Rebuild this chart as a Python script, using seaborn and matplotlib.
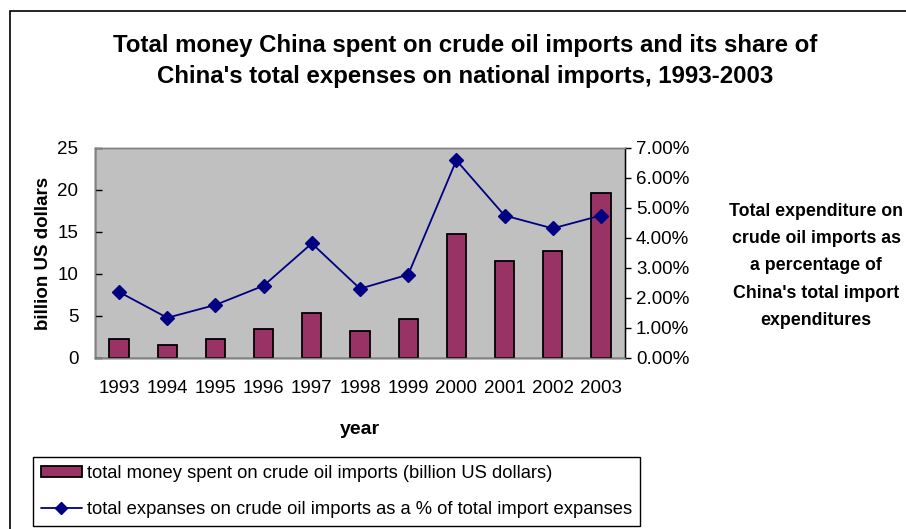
import matplotlib
matplotlib.use("Agg")
import matplotlib.pyplot as plt
import seaborn as sns
import pandas as pd
from matplotlib.patches import Patch, Rectangle
from matplotlib.lines import Line2D
from matplotlib.ticker import PercentFormatter, MultipleLocator

# Data: China's crude oil import bill and its share of total imports
years = ["1993", "1994", "1995", "1996", "1997", "1998", "1999", "2000", "2001", "2002", "2003"]
spending_bn_usd = [2.3, 1.5, 2.3, 3.4, 5.4, 3.2, 4.6, 14.8, 11.5, 12.7, 19.7]
share_pct = [2.20, 1.34, 1.77, 2.41, 3.82, 2.31, 2.78, 6.59, 4.75, 4.32, 4.75]

title = ("Total money China spent on crude oil imports and its share of\n"
         "China's total expenses on national imports, 1993-2003")
bar_label = "total money spent on crude oil imports (billion US dollars)"
line_label = "total expanses on crude oil imports as a % of total import expanses"
side_note = ("Total expenditure on\ncrude oil imports as\na percentage of\n"
             "China's total import\nexpenditures")

df = pd.DataFrame({"year": years, "spending": spending_bn_usd, "share": share_pct})

sns.set_theme(style="white")
plt.rcParams["font.family"] = ["Liberation Sans", "DejaVu Sans"]
plt.rcParams.update({"text.color": "black", "axes.labelcolor": "black",
                     "xtick.color": "black", "ytick.color": "black"})

BAR_COLOR = "#993366"
LINE_COLOR = "#000080"
W, H = 906, 529

fig = plt.figure(figsize=(W / 100, H / 100), dpi=100)
ax = fig.add_axes([95 / W, 1 - 358 / H, (625 - 95) / W, (358 - 148) / H])
ax.set_facecolor("#C0C0C0")

sns.barplot(data=df, x="year", y="spending", color=BAR_COLOR, width=0.4,
            edgecolor="black", linewidth=1.3, saturation=1, ax=ax)
ax.set_ylim(0, 25)
ax.yaxis.set_major_locator(MultipleLocator(5))
ax.set_xlim(-0.5, len(years) - 0.5)

ax2 = ax.twinx()
sns.pointplot(data=df, x="year", y="share", color=LINE_COLOR, markers="D",
              linestyles="-", markersize=7, linewidth=1.3, ax=ax2)
ax2.set_ylim(0, 7)
ax2.yaxis.set_major_locator(MultipleLocator(1))
ax2.yaxis.set_major_formatter(PercentFormatter(xmax=100, decimals=2))
ax2.set_xlim(-0.5, len(years) - 0.5)
ax2.set_ylabel("")
ax2.set_xlabel("")

for a in (ax, ax2):
    for s in a.spines.values():
        s.set_color("#808080")
        s.set_linewidth(1.0)
ax.spines["left"].set_color("black")
ax.spines["bottom"].set_color("black")
ax2.spines["right"].set_color("black")

# x ticks sit at the category boundaries, labels at the centres
ax.set_xticks([i + 0.5 for i in range(len(years) - 1)], minor=True)
ax.tick_params(axis="x", which="major", length=0, labelsize=13.5, pad=16)
ax.tick_params(axis="x", which="minor", direction="in", length=5, width=1, color="black")
ax.tick_params(axis="y", direction="in", length=5, width=1, color="black",
               labelsize=13.5, pad=12, left=True)
ax2.tick_params(axis="y", direction="out", length=4, width=1, color="black",
                labelsize=13.5, pad=4, right=True)

ax.set_xlabel("year", fontsize=14, fontweight="bold", labelpad=17)
ax.set_ylabel("billion US dollars", fontsize=13.5, fontweight="bold", labelpad=4)

fig.text(465 / W, 1 - 61 / H, title, ha="center", va="center", fontsize=17.3,
         fontweight="bold", linespacing=1.4)
fig.text(816 / W, 1 - 266 / H, side_note, ha="center", va="center", fontsize=12.8,
         fontweight="bold", linespacing=1.8)

handles = [Patch(facecolor=BAR_COLOR, edgecolor="black", linewidth=1.3, label=bar_label),
           Line2D([0], [0], color=LINE_COLOR, marker="D", markersize=6, linewidth=1.3,
                  label=line_label)]
leg = fig.legend(handles=handles, loc="upper left", bbox_to_anchor=(33 / W, 1 - 457 / H),
                 frameon=True, fancybox=False, framealpha=1, edgecolor="black",
                 fontsize=13.2, handlelength=2.2, handleheight=0.55, handletextpad=0.3,
                 borderpad=0.45, labelspacing=1.0, borderaxespad=0)
leg.get_frame().set_linewidth(1.0)

# chart-area frame (only its top and left edges fall inside the image)
fig.patches.append(Rectangle((10 / W, -0.1), 1.2, 1 - 11 / H + 0.1, transform=fig.transFigure,
                             fill=False, edgecolor="black", linewidth=1.2, zorder=0))

fig.savefig("out.png", dpi=100)
